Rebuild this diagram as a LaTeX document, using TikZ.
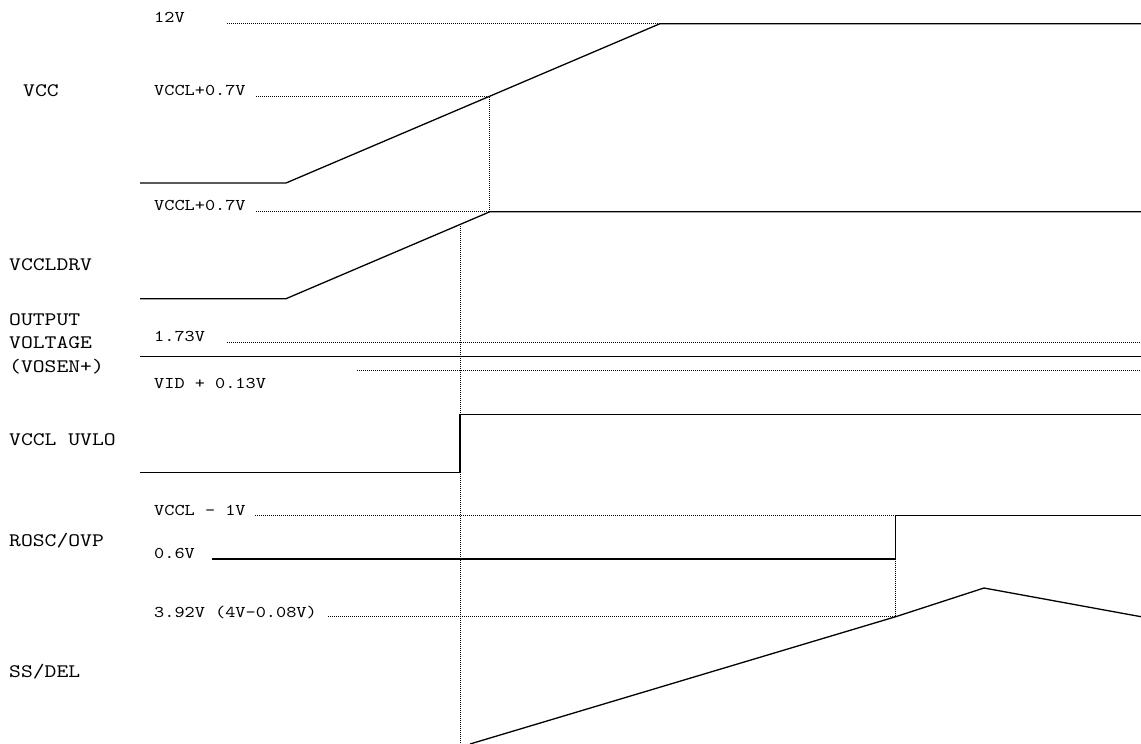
\documentclass[tikz,border=0pt]{standalone}
\usepackage{fontspec}
\newfontfamily\courfont[Extension=.otf,FakeStretch=1.18]{lmmono10-regular}
\begin{document}
\begin{tikzpicture}[x=1pt,y=-1pt,
  sig/.style={line width=1.3pt,line join=miter},
  guide/.style={line width=0.8pt,dash pattern=on 1pt off 1pt},
  lvl/.style={anchor=base west,inner sep=0pt,font=\courfont\fontsize{16.4}{20}\selectfont},
  sname/.style={anchor=base west,inner sep=0pt,align=left,font=\courfont\fontsize{19.1}{23.7}\selectfont}]
\useasboundingbox[fill=white] (0,0) rectangle (1141,744);
% signal names
\node[sname] (nvcc) at (23,96.5) {VCC};
\node[sname] (nldrv) at (9,270.5) {VCCLDRV};
\node[sname,anchor=north west] (nout) at (9,313) {OUTPUT\\VOLTAGE\\(VOSEN+)};
\node[sname] (nuvlo) at (9,445) {VCCL UVLO};
\node[sname] (nrosc) at (9,546) {ROSC/OVP};
\node[sname] (nss) at (9,677) {SS/DEL};
% level labels
\node[lvl] (l12) at (154,22.5) {12V};
\node[lvl] (l07a) at (154,95) {VCCL+0.7V};
\node[lvl] (l07b) at (154,210.5) {VCCL+0.7V};
\node[lvl] (l173) at (154,341) {1.73V};
\node[lvl] (lvid) at (154,388) {VID + 0.13V};
\node[lvl] (l1v) at (154,515) {VCCL - 1V};
\node[lvl] (l06) at (154,558) {0.6V};
\node[lvl] (l392) at (154,617.5) {3.92V (4V-0.08V)};
% guide lines
\draw[guide] (227,23.7) -- (1040,23.7);
\draw[guide] (256,96) -- (489,96) -- (489,211.7);
\draw[guide] (256,211.7) -- (489,211.7);
\draw[guide] (460,226) -- (460,744);
\draw[guide] (227,342.3) -- (1141,342.3);
\draw[guide] (357,370) -- (1141,370);
\draw[guide] (255,515.7) -- (895.7,515.7);
\draw[guide] (328,616.7) -- (895.7,616.7) -- (895.7,559);
% signals
\draw[sig] (140,183) -- (286,183) -- (660,23.7) -- (1141,23.7);
\draw[sig] (140,298.7) -- (286,298.7) -- (490,211.7) -- (1141,211.7);
\draw[sig] (140,356.7) -- (1141,356.7);
\draw[sig] (140,472.3) -- (460,472.3) -- (460,414.3) -- (1141,414.3);
\draw[sig] (212,559) -- (895.7,559) -- (895.7,515.7) -- (1141,515.7);
\draw[sig] (470,744) -- (895.7,616.7) -- (984,588) -- (1141,616.7);
\end{tikzpicture}
\end{document}
